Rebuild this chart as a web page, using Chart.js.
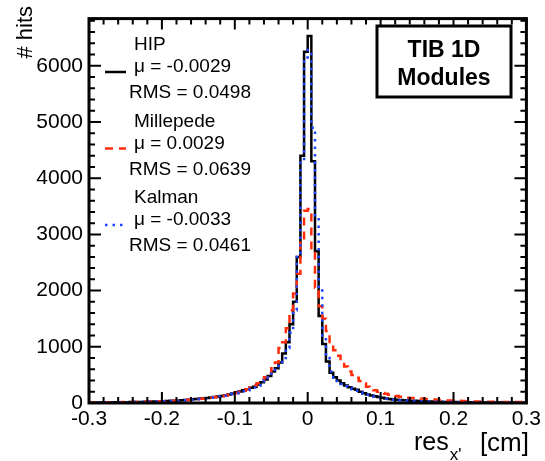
<!DOCTYPE html>
<html>
<head>
<meta charset="utf-8">
<script src="https://cdn.jsdelivr.net/npm/chart.js@4.4.0/dist/chart.umd.min.js"></script>
<style>
    html, body { margin: 0; padding: 0; background: #fff; }
    #wrap { width: 545px; height: 461px; }
</style>
</head>
<body>
<div id="wrap"><canvas id="myChart" width="545" height="461"></canvas></div>
<script>
// binning of the residual histograms (cm)
const binLow = -0.3;
const binWidth = 0.005;

// counts per bin, from -0.3 to 0.3
const hipCounts = [
    8, 9, 9, 10, 10, 11, 12, 12, 13, 14,
    15, 16, 17, 18, 20, 21, 23, 25, 27, 30,
    32, 35, 38, 42, 46, 50, 55, 60, 66, 72,
    80, 85, 90, 98, 108, 115, 125, 140, 150, 170,
    190, 205, 225, 245, 270, 290, 330, 370, 420, 480,
    560, 620, 720, 880, 1080, 1400, 1800, 2600, 4400, 6250,
    6530, 4300, 2700, 1550, 1050, 740, 540, 460, 400, 350,
    310, 280, 255, 235, 200, 175, 150, 135, 120, 105,
    92, 82, 72, 63, 58, 52, 48, 44, 40, 38,
    34, 32, 30, 27, 25, 24, 22, 20, 19, 18,
    17, 16, 15, 14, 13, 13, 12, 11, 11, 10,
    10, 9, 9, 8, 8, 8, 7, 7, 7, 6
];
const milleCounts = [
    10, 11, 11, 12, 12, 13, 14, 14, 15, 16,
    17, 18, 19, 20, 21, 23, 25, 27, 29, 31,
    33, 35, 37, 40, 44, 48, 53, 58, 63, 68,
    74, 80, 88, 95, 103, 112, 122, 135, 148, 162,
    180, 198, 220, 245, 275, 310, 350, 400, 460, 530,
    620, 720, 980, 1080, 1330, 1650, 1950, 2300, 2850, 3420,
    3450, 2700, 2050, 1720, 1500, 1280, 1050, 940, 840, 730,
    650, 560, 500, 450, 390, 345, 290, 250, 225, 200,
    180, 165, 145, 132, 125, 112, 103, 95, 88, 88,
    82, 78, 72, 68, 63, 58, 54, 50, 46, 43,
    40, 38, 35, 32, 30, 28, 26, 25, 24, 23,
    22, 21, 20, 19, 19, 18, 17, 17, 16, 16
];
const kalmanCounts = [
    7, 8, 8, 9, 9, 10, 11, 11, 12, 13,
    14, 15, 16, 17, 19, 20, 22, 24, 26, 28,
    30, 33, 36, 39, 42, 46, 50, 55, 60, 66,
    72, 78, 84, 92, 100, 108, 118, 130, 142, 158,
    175, 190, 208, 228, 250, 275, 305, 345, 400, 455,
    520, 590, 660, 800, 980, 1250, 1650, 2600, 4300, 6150,
    6280, 4900, 3300, 2000, 1200, 800, 560, 450, 390, 340,
    300, 270, 245, 220, 190, 165, 145, 128, 112, 98,
    86, 76, 67, 60, 54, 49, 45, 41, 37, 34,
    31, 29, 27, 25, 23, 21, 20, 18, 17, 16,
    15, 14, 13, 12, 12, 11, 10, 10, 9, 9,
    8, 8, 8, 7, 7, 7, 6, 6, 6, 5
];

const seriesNames = ['HIP', 'Millepede', 'Kalman'];
const seriesMeans = ['-0.0029', '0.0029', '-0.0033'];
const seriesRms = ['0.0498', '0.0639', '0.0461'];

const xTickValues = [-0.3, -0.2, -0.1, 0, 0.1, 0.2, 0.3];
const xTickLabels = ['-0.3', '-0.2', '-0.1', '0', '0.1', '0.2', '0.3'];
const yTickValues = [0, 1000, 2000, 3000, 4000, 5000, 6000];
const yMax = 6840;

const FONT = '"Liberation Sans", Arial, Helvetica, sans-serif';

function toPoints(counts) {
    let pts = counts.map((c, i) => ({ x: binLow + i * binWidth, y: c }));
    // close the last bin at the right edge
    pts.push({ x: binLow + counts.length * binWidth, y: counts[counts.length - 1] });
    return pts;
}

/*------------------------------- frame, ticks, legend, labels -------------------------------*/

const rootStyle = {
    id: 'rootStyle',
    afterDatasetsDraw(chart) {
        const { ctx, chartArea: a, scales } = chart;
        const x = scales.x, y = scales.y;
        ctx.save();
        ctx.strokeStyle = '#000';
        ctx.lineWidth = 2;
        ctx.beginPath();
        for (let i = 0; i <= 30; i++) {
            let px = x.getPixelForValue(-0.3 + i * 0.02);
            let len = i % 5 == 0 ? 11 : 6;
            ctx.moveTo(px, a.bottom); ctx.lineTo(px, a.bottom - len);
            ctx.moveTo(px, a.top); ctx.lineTo(px, a.top + len);
        }
        for (let v = 0; v <= yMax; v += 200) {
            let py = y.getPixelForValue(v);
            let len = v % 1000 == 0 ? 12 : 6;
            ctx.moveTo(a.left, py); ctx.lineTo(a.left + len, py);
            ctx.moveTo(a.right, py); ctx.lineTo(a.right - len, py);
        }
        ctx.stroke();
        ctx.lineWidth = 3;
        ctx.strokeRect(a.left, a.top, a.right - a.left, a.bottom - a.top);
        ctx.restore();
    },
    afterDraw(chart) {
        const ctx = chart.ctx;
        ctx.save();
        ctx.fillStyle = '#000';
        ctx.textBaseline = 'alphabetic';

        // legend
        const baseY = [50, 126.5, 203];
        chart.data.datasets.forEach((ds, k) => {
            let idx = seriesNames.indexOf(ds.label);
            let by = baseY[idx];
            ctx.font = '19px ' + FONT;
            ctx.textAlign = 'left';
            ctx.fillText(seriesNames[idx], 134, by);
            ctx.fillText('\u03bc = ' + seriesMeans[idx], 134, by + 22);
            ctx.fillText('RMS = ' + seriesRms[idx], 129, by + 48);
            ctx.beginPath();
            ctx.strokeStyle = ds.borderColor;
            ctx.lineWidth = ds.borderWidth;
            ctx.setLineDash(ds.borderDash || []);
            ctx.moveTo(105, by + 22);
            ctx.lineTo(126, by + 22);
            ctx.stroke();
            ctx.setLineDash([]);
        });

        // y title
        ctx.save();
        ctx.translate(32, 6);
        ctx.rotate(-Math.PI / 2);
        ctx.font = '22px ' + FONT;
        ctx.textAlign = 'right';
        ctx.fillText('# hits', 0, 0);
        ctx.restore();

        // x title
        ctx.font = '25px ' + FONT;
        ctx.textAlign = 'left';
        ctx.fillText('res', 414, 450);
        let w = ctx.measureText('res').width;
        ctx.font = '17px ' + FONT;
        ctx.fillText("x'", 414 + w + 1, 460);
        ctx.font = '26px ' + FONT;
        ctx.textAlign = 'right';
        ctx.fillText('[cm]', 529, 451);

        // label box
        ctx.fillStyle = '#fff';
        ctx.fillRect(377, 26, 134, 71);
        ctx.strokeStyle = '#000';
        ctx.lineWidth = 3;
        ctx.strokeRect(377, 26, 134, 71);
        ctx.fillStyle = '#000';
        ctx.font = 'bold 23px ' + FONT;
        ctx.textAlign = 'center';
        ctx.fillText('TIB 1D', 444, 57);
        ctx.fillText('Modules', 444, 85);
        ctx.restore();
    }
};

const config = {
    type: 'line',
    data: {
        datasets: [{
            label: 'Kalman',
            data: toPoints(kalmanCounts),
            borderColor: 'rgb(30,70,255)',
            borderWidth: 2.5,
            borderDash: [2.5, 5],
            stepped: true,
            order: 0
        }, {
            label: 'Millepede',
            data: toPoints(milleCounts),
            borderColor: 'rgb(255,45,10)',
            borderWidth: 2.5,
            borderDash: [8, 6],
            stepped: true,
            order: 1
        }, {
            label: 'HIP',
            data: toPoints(hipCounts),
            borderColor: '#000',
            borderWidth: 2.5,
            stepped: true,
            order: 2
        }]
    },
    options: {
        responsive: false,
        devicePixelRatio: 1,
        animation: false,
        layout: { padding: { left: 0, right: 16, top: 10, bottom: 0 } },
        elements: { point: { radius: 0 } },
        plugins: { legend: { display: false }, tooltip: { enabled: false } },
        scales: {
            x: {
                type: 'linear',
                min: -0.3,
                max: 0.3,
                grid: { display: false, drawTicks: false },
                border: { display: false },
                afterBuildTicks: (scale) => { scale.ticks = xTickValues.map(v => ({ value: v })); },
                afterFit: (scale) => { scale.height = 58; },
                ticks: {
                    autoSkip: false,
                    maxRotation: 0,
                    padding: 4,
                    color: '#000',
                    font: { family: FONT, size: 21 },
                    callback: (v, i) => xTickLabels[i]
                }
            },
            y: {
                type: 'linear',
                min: 0,
                max: yMax,
                grid: { display: false, drawTicks: false },
                border: { display: false },
                afterBuildTicks: (scale) => { scale.ticks = yTickValues.map(v => ({ value: v })); },
                afterFit: (scale) => { scale.width = 89; },
                ticks: {
                    padding: 6,
                    color: '#000',
                    font: { family: FONT, size: 21 },
                    callback: (v) => String(v)
                }
            }
        }
    },
    plugins: [rootStyle]
};

let myChart = new Chart(document.getElementById('myChart'), config);
</script>
</body>
</html>
